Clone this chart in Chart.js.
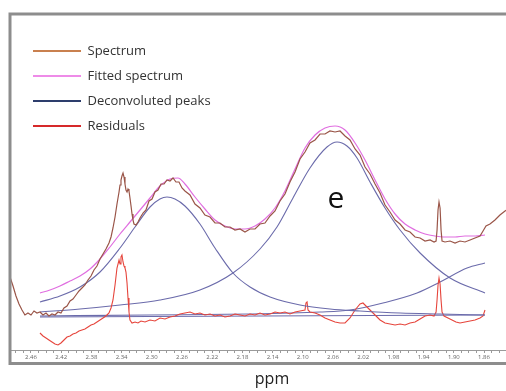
<!DOCTYPE html>
<html>
<head>
<meta charset="utf-8">
<script src="https://cdn.jsdelivr.net/npm/chart.js@4.4.1/dist/chart.umd.min.js"></script>
<style>
  html, body { margin: 0; padding: 0; background: #fff; overflow: hidden; }
  #wrap { width: 540px; height: 391px; }
</style>
</head>
<body>
<div id="wrap"><canvas id="nmrChart" width="540" height="391"></canvas></div>
<script>
// series names + legend colours
const seriesNames = ["Spectrum", "Fitted spectrum", "Deconvoluted peaks", "Residuals"];
const legendColors = ["#c9804f", "#ee8be8", "#2d3d6c", "#d6292a"];

// x tick labels (ppm)
const tickLabels = ["2.46", "2.42", "2.38", "2.34", "2.30", "2.26", "2.22", "2.18",
  "2.14", "2.10", "2.06", "2.02", "1.98", "1.94", "1.90", "1.86"];

// measured spectrum
const specPpm = [2.4878, 2.4838, 2.4799, 2.4759, 2.4719, 2.4680, 2.4640, 2.4600, 2.4560, 2.4521,
  2.4481, 2.4441, 2.4401, 2.4362, 2.4322, 2.4282, 2.4242, 2.4203, 2.4163, 2.4123,
  2.4083, 2.4044, 2.4004, 2.3964, 2.3925, 2.3885, 2.3845, 2.3805, 2.3766, 2.3726,
  2.3686, 2.3646, 2.3607, 2.3567, 2.3540, 2.3514, 2.3487, 2.3461, 2.3434, 2.3421,
  2.3408, 2.3395, 2.3381, 2.3368, 2.3355, 2.3342, 2.3328, 2.3315, 2.3302, 2.3289,
  2.3275, 2.3262, 2.3249, 2.3236, 2.3209, 2.3183, 2.3156, 2.3116, 2.3077, 2.3037,
  2.2997, 2.2958, 2.2918, 2.2878, 2.2838, 2.2799, 2.2759, 2.2719, 2.2680, 2.2640,
  2.2600, 2.2561, 2.2494, 2.2428, 2.2362, 2.2296, 2.2229, 2.2163, 2.2097, 2.2031,
  2.1964, 2.1898, 2.1832, 2.1766, 2.1699, 2.1633, 2.1567, 2.1501, 2.1434, 2.1368,
  2.1302, 2.1236, 2.1170, 2.1103, 2.1037, 2.0971, 2.0905, 2.0838, 2.0772, 2.0706,
  2.0640, 2.0573, 2.0507, 2.0441, 2.0375, 2.0308, 2.0242, 2.0176, 2.0110, 2.0043,
  1.9977, 1.9911, 1.9845, 1.9778, 1.9712, 1.9646, 1.9580, 1.9513, 1.9447, 1.9381,
  1.9315, 1.9262, 1.9235, 1.9222, 1.9209, 1.9196, 1.9182, 1.9169, 1.9156, 1.9117,
  1.9050, 1.8984, 1.8918, 1.8852, 1.8785, 1.8719, 1.8653, 1.8613, 1.8574, 1.8521,
  1.8455, 1.8389, 1.8322, 1.8256];
const specInt = [73, 64, 54, 46, 40, 35, 37, 35, 39, 37,
  38, 35, 37, 34, 36, 35, 38, 37, 42, 44,
  49, 51, 55, 59, 62, 65, 70, 74, 80, 84,
  91, 96, 101, 107, 113, 122, 133, 146, 158, 165,
  170, 174, 177, 173, 166, 160, 158, 161, 159, 152,
  144, 136, 130, 126, 125, 128, 132, 137, 140, 149,
  151, 158, 160, 166, 166, 170, 169, 172, 168, 168,
  162, 159, 155, 146, 142, 135, 133, 127, 127, 123,
  123, 120, 121, 118, 121, 121, 126, 127, 134, 139,
  149, 156, 168, 178, 191, 198, 207, 210, 216, 216,
  219, 218, 219, 214, 210, 201, 195, 183, 176, 166,
  157, 145, 138, 130, 126, 120, 118, 113, 112, 109,
  110, 108, 109, 120, 140, 148, 142, 120, 109, 108,
  109, 107, 109, 108, 110, 112, 114, 119, 124, 126,
  130, 135, 139, 142];

// fitted spectrum
const fitPpm = [2.4481, 2.4349, 2.4216, 2.4083, 2.3951, 2.3818, 2.3686, 2.3554, 2.3421, 2.3289,
  2.3156, 2.3024, 2.2892, 2.2759, 2.2653, 2.2561, 2.2428, 2.2296, 2.2163, 2.2031,
  2.1898, 2.1766, 2.1633, 2.1501, 2.1368, 2.1236, 2.1103, 2.0971, 2.0838, 2.0706,
  2.0573, 2.0441, 2.0308, 2.0176, 2.0043, 1.9911, 1.9778, 1.9646, 1.9513, 1.9381,
  1.9249, 1.9117, 1.8984, 1.8852, 1.8719, 1.8587];
const fitInt = [57, 60, 64, 69, 74, 81, 91, 103, 116, 128,
  140, 152, 164, 171, 172, 166, 153, 141, 130, 124,
  121, 121, 124, 131, 142, 159, 181, 202, 215, 222,
  224, 220, 207, 190, 170, 151, 136, 126, 120, 116,
  114, 113, 113, 114, 114, 115];

// deconvoluted peak 1 (left)
const peak1Ppm = [2.4481, 2.4216, 2.3951, 2.3686, 2.3421, 2.3222, 2.3024, 2.2892, 2.2799, 2.2693,
  2.2561, 2.2362, 2.2163, 2.1925, 2.1699, 2.1434, 2.1037, 2.0640, 2.0242, 1.9712,
  1.9182, 1.8587];
const peak1Int = [48, 54, 63, 78, 102, 123, 143, 151, 153, 151,
  144, 126, 102, 77, 63, 53, 45, 41, 39, 37,
  36, 35];

// deconvoluted peak 2 (peak e)
const peak2Ppm = [2.4481, 2.3951, 2.3421, 2.2892, 2.2362, 2.1925, 2.1567, 2.1342, 2.1130, 2.0905,
  2.0680, 2.0547, 2.0415, 2.0282, 2.0110, 1.9911, 1.9712, 1.9447, 1.9050, 1.8587];
const peak2Int = [38, 41, 45, 50, 60, 77, 101, 123, 152, 182,
  203, 208, 204, 192, 168, 142, 120, 97, 72, 57];

// deconvoluted peak 3 (right edge)
const peak3Ppm = [2.4481, 2.3024, 2.1699, 2.0772, 2.0375, 1.9938, 1.9487, 1.9182, 1.8825, 1.8587];
const peak3Int = [34, 35, 36, 38, 40, 47, 57, 68, 82, 87];

// broad baseline component
const basePpm = [2.4481, 2.1567, 1.8587];
const baseInt = [33, 34, 35];

// residuals
const resPpm = [2.4481, 2.4441, 2.4401, 2.4362, 2.4322, 2.4282, 2.4242, 2.4203, 2.4163, 2.4123,
  2.4083, 2.4044, 2.4004, 2.3964, 2.3925, 2.3885, 2.3845, 2.3805, 2.3766, 2.3726,
  2.3686, 2.3646, 2.3607, 2.3567, 2.3540, 2.3514, 2.3487, 2.3461, 2.3434, 2.3421,
  2.3408, 2.3395, 2.3381, 2.3368, 2.3355, 2.3342, 2.3328, 2.3315, 2.3302, 2.3289,
  2.3262, 2.3222, 2.3183, 2.3143, 2.3090, 2.3024, 2.2958, 2.2891, 2.2825, 2.2759,
  2.2693, 2.2627, 2.2561, 2.2494, 2.2428, 2.2362, 2.2296, 2.2229, 2.2163, 2.2097,
  2.2031, 2.1964, 2.1898, 2.1832, 2.1766, 2.1699, 2.1633, 2.1567, 2.1501, 2.1434,
  2.1368, 2.1302, 2.1236, 2.1170, 2.1103, 2.1037, 2.0971, 2.0958, 2.0944, 2.0931,
  2.0905, 2.0838, 2.0772, 2.0706, 2.0640, 2.0573, 2.0507, 2.0441, 2.0375, 2.0308,
  2.0242, 2.0203, 2.0163, 2.0110, 2.0043, 1.9977, 1.9911, 1.9845, 1.9778, 1.9712,
  1.9646, 1.9580, 1.9513, 1.9447, 1.9381, 1.9315, 1.9262, 1.9235, 1.9222, 1.9209,
  1.9196, 1.9182, 1.9169, 1.9156, 1.9130, 1.9077, 1.9024, 1.8971, 1.8918, 1.8852,
  1.8785, 1.8719, 1.8653, 1.8613, 1.8587];
const resInt = [17, 14, 12, 10, 8, 6, 5, 7, 10, 13,
  14, 16, 17, 19, 20, 21, 23, 25, 26, 28,
  30, 32, 34, 37, 42, 50, 65, 82, 90, 86,
  93, 95, 88, 84, 82, 78, 67, 52, 38, 30,
  27, 28, 27, 29, 28, 30, 29, 32, 31, 33,
  34, 36, 37, 38, 36, 37, 35, 36, 34, 35,
  33, 34, 36, 35, 34, 36, 35, 37, 35, 36,
  38, 37, 38, 36, 38, 39, 40, 47, 48, 40,
  38, 37, 35, 32, 30, 28, 27, 27, 32, 40,
  46, 47, 44, 40, 35, 30, 27, 26, 25, 26,
  25, 27, 28, 31, 34, 35, 34, 38, 50, 65,
  72, 66, 50, 38, 34, 32, 30, 28, 27, 28,
  29, 30, 32, 34, 40];

// label "e" on the main peak
const peakLabel = { text: "e", ppm: 2.056, intensity: 151 };

function toXY(xs, ys) {
  return xs.map((x, i) => ({ x: x, y: ys[i] }));
}

// minor ticks every 0.01 ppm
const minorTicks = [];
for (let k = 248; k >= 180; k--) minorTicks.push(k / 100);

const framePlugin = {
  id: "frame",
  afterLayout(chart) {
    // put the legend block inside the frame, top-left
    chart.legend.left = 21;
    chart.legend.top = 32.5;
    chart.legend.bottom = 391;
  },
  afterDatasetsDraw(chart) {
    const ctx = chart.ctx;
    const x = chart.scales.x.getPixelForValue(peakLabel.ppm);
    const y = chart.scales.y.getPixelForValue(peakLabel.intensity);
    ctx.save();
    ctx.font = "30px 'Open Sans'";
    ctx.fillStyle = "#111";
    ctx.textAlign = "center";
    ctx.textBaseline = "middle";
    ctx.fillText(peakLabel.text, x, y);
    ctx.restore();
  },
  afterDraw(chart) {
    const a = chart.chartArea;
    const ctx = chart.ctx;
    ctx.save();
    ctx.strokeStyle = "#8d8d8d";
    ctx.lineWidth = 3;
    ctx.strokeRect(a.left, a.top, a.right + 3 - a.left, a.bottom + 13.5 - a.top);
    ctx.restore();
  }
};

const ctx = document.getElementById("nmrChart");

new Chart(ctx, {
  type: "line",
  data: {
    datasets: [
      { label: seriesNames[0], data: toXY(specPpm, specInt), borderColor: "#9a5548", borderWidth: 1.2, tension: 0 },
      { label: seriesNames[1], data: toXY(fitPpm, fitInt), borderColor: "#e06ee0", borderWidth: 1.2, cubicInterpolationMode: "monotone" },
      { label: seriesNames[2], data: toXY(peak1Ppm, peak1Int), borderColor: "#6b6bab", borderWidth: 1.1, cubicInterpolationMode: "monotone" },
      { label: seriesNames[3], data: toXY(resPpm, resInt), borderColor: "#e6453c", borderWidth: 1.1, tension: 0 },
      { label: "", data: toXY(peak2Ppm, peak2Int), borderColor: "#6b6bab", borderWidth: 1.1, cubicInterpolationMode: "monotone" },
      { label: "", data: toXY(peak3Ppm, peak3Int), borderColor: "#6b6bab", borderWidth: 1.1, cubicInterpolationMode: "monotone" },
      { label: "", data: toXY(basePpm, baseInt), borderColor: "#6b6bab", borderWidth: 1.1 }
    ]
  },
  options: {
    responsive: false,
    animation: false,
    events: [],
    elements: { point: { radius: 0 } },
    layout: { padding: { left: 10, right: 6, top: 14, bottom: 0 } },
    scales: {
      x: {
        type: "linear",
        reverse: true,
        min: 1.7938,
        max: 2.4878,
        afterBuildTicks: (scale) => {
          scale.ticks = minorTicks.map(v => ({ value: v }));
        },
        ticks: {
          autoSkip: false,
          maxRotation: 0,
          padding: 1,
          color: "#666",
          font: { family: "'Open Sans'", size: 6 },
          callback: (value) => {
            const s = Number(value).toFixed(2);
            return tickLabels.includes(s) ? s : "";
          }
        },
        grid: { drawOnChartArea: false, drawTicks: true, tickLength: 3, color: "#9a9a9a" },
        border: { display: true, color: "#9a9a9a", width: 1 },
        title: {
          display: true,
          text: "ppm",
          color: "#222",
          font: { family: "'Open Sans'", size: 16 },
          padding: { top: 7.6, bottom: 2 }
        }
      },
      y: { display: false, min: 0, max: 336 }
    },
    plugins: {
      tooltip: { enabled: false },
      legend: {
        position: "chartArea",
        align: "start",
        labels: {
          boxWidth: 48,
          boxHeight: 2,
          padding: 12,
          color: "#333",
          font: { family: "'Open Sans'", size: 13 },
          generateLabels: (chart) => {
            const items = Chart.defaults.plugins.legend.labels.generateLabels(chart);
            return items.map(it => {
              const idx = seriesNames.indexOf(it.text);
              return Object.assign({}, it, {
                fillStyle: idx >= 0 ? legendColors[idx] : it.fillStyle,
                strokeStyle: "rgba(0,0,0,0)",
                lineWidth: 0
              });
            });
          },
          filter: (item) => item.text !== ""
        }
      }
    }
  },
  plugins: [framePlugin]
});
</script>
</body>
</html>
